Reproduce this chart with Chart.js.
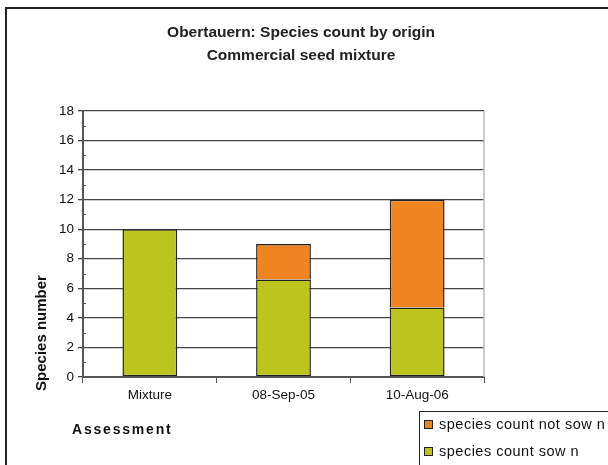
<!DOCTYPE html>
<html>
<head>
<meta charset="utf-8">
<script src="https://cdn.jsdelivr.net/npm/chart.js@4"></script>
<style>
html,body{margin:0;padding:0;background:#fff;}
#wrap{width:608px;height:465px;position:relative;}
</style>
</head>
<body>
<div id="wrap"><canvas id="c" width="608" height="465"></canvas></div>
<script>
const categories = ["Mixture", "08-Sep-05", "10-Aug-06"];
const sownCounts = [10, 6.6, 4.7];
const notSownCounts = [null, 2.4, 7.3];
const seriesLabels = ["species count sow n", "species count not sow n"];
const titleLines = ["Obertauern: Species count by origin", "Commercial seed mixture"];
const yAxisTitle = "Species number";
const xAxisTitle = "Assessment";

const GREEN = "#BCC41E";
const ORANGE = "#F08421";
const FONT = "'Liberation Sans', Arial, sans-serif";

const decor = {
  id: "decor",
  beforeDraw(chart) {
    const ctx = chart.ctx;
    ctx.save();
    ctx.fillStyle = "#fff";
    ctx.fillRect(0, 0, chart.width, chart.height);
    ctx.strokeStyle = "#222";
    ctx.lineWidth = 2;
    ctx.strokeRect(6, 8, 800, 800);
    ctx.restore();
  },
  afterDraw(chart) {
    const ctx = chart.ctx;
    const a = chart.chartArea;
    const y = chart.scales.y;
    ctx.save();
    // title
    ctx.fillStyle = "#222";
    ctx.font = "bold 15.5px " + FONT;
    ctx.textAlign = "center";
    ctx.textBaseline = "middle";
    ctx.fillText(titleLines[0], 301, 33);
    ctx.fillText(titleLines[1], 301, 56);
    // right plot border
    ctx.strokeStyle = "#bbb";
    ctx.lineWidth = 1.5;
    ctx.beginPath();
    ctx.moveTo(a.right, a.top);
    ctx.lineTo(a.right, a.bottom);
    ctx.stroke();
    // minor ticks
    ctx.strokeStyle = "#555";
    ctx.lineWidth = 1;
    for (let v = 1; v < 18; v += 2) {
      const py = Math.round(y.getPixelForValue(v)) + 0.5;
      ctx.beginPath();
      ctx.moveTo(a.left, py);
      ctx.lineTo(a.left + 3, py);
      ctx.stroke();
    }
    // y axis title
    ctx.fillStyle = "#111";
    ctx.font = "bold 15px " + FONT;
    ctx.textAlign = "center";
    ctx.textBaseline = "middle";
    ctx.translate(42, 333);
    ctx.rotate(-Math.PI / 2);
    ctx.fillText(yAxisTitle, 0, 0);
    ctx.restore();
    // x axis title
    ctx.save();
    ctx.fillStyle = "#111";
    ctx.font = "bold 14px " + FONT;
    ctx.letterSpacing = "1.8px";
    ctx.textAlign = "left";
    ctx.textBaseline = "middle";
    ctx.fillText(xAxisTitle, 72, 430);
    ctx.restore();
    // legend
    ctx.save();
    ctx.strokeStyle = "#222";
    ctx.lineWidth = 1;
    ctx.strokeRect(419.5, 411.5, 300, 100);
    const ds = chart.data.datasets;
    const items = [ds[1], ds[0]];
    const ys = [425, 452];
    ctx.font = "14.5px " + FONT;
    ctx.letterSpacing = "0.5px";
    ctx.textBaseline = "middle";
    ctx.textAlign = "left";
    items.forEach((d, i) => {
      ctx.fillStyle = d.backgroundColor;
      ctx.fillRect(424.5, ys[i] - 4.5, 8, 8);
      ctx.strokeStyle = "#222";
      ctx.strokeRect(424.5, ys[i] - 4.5, 8, 8);
      ctx.fillStyle = "#111";
      ctx.fillText(d.label, 439, ys[i]);
    });
    ctx.restore();
  }
};

new Chart(document.getElementById("c"), {
  type: "bar",
  data: {
    labels: categories,
    datasets: [
      { label: seriesLabels[0], data: sownCounts, backgroundColor: GREEN, borderColor: "#222", borderWidth: 1.5, borderSkipped: false },
      { label: seriesLabels[1], data: notSownCounts, backgroundColor: ORANGE, borderColor: "#222", borderWidth: 1.5, borderSkipped: "bottom" }
    ]
  },
  options: {
    responsive: false,
    animation: false,
    events: [],
    layout: { padding: { top: 111, left: 0, right: 124, bottom: 58 } },
    datasets: { bar: { categoryPercentage: 1, barPercentage: 0.41 } },
    plugins: {
      legend: { display: false },
      tooltip: { enabled: false },
      title: { display: false }
    },
    scales: {
      x: {
        stacked: true,
        grid: { offset: true, drawOnChartArea: false, tickLength: 6, color: "#555" },
        border: { color: "#555", width: 2 },
        ticks: { color: "#111", padding: 4, font: { family: FONT, size: 13.5 } },
        afterFit(s) { s.height = 30; }
      },
      y: {
        stacked: true,
        min: 0, max: 18,
        ticks: { stepSize: 2, color: "#111", padding: 4, font: { family: FONT, size: 13.5 } },
        grid: { color: "#444", lineWidth: 1.3, tickLength: 5 },
        border: { color: "#555", width: 2 },
        afterFit(s) { s.width = 83; }
      }
    }
  },
  plugins: [decor]
});
</script>
</body>
</html>
